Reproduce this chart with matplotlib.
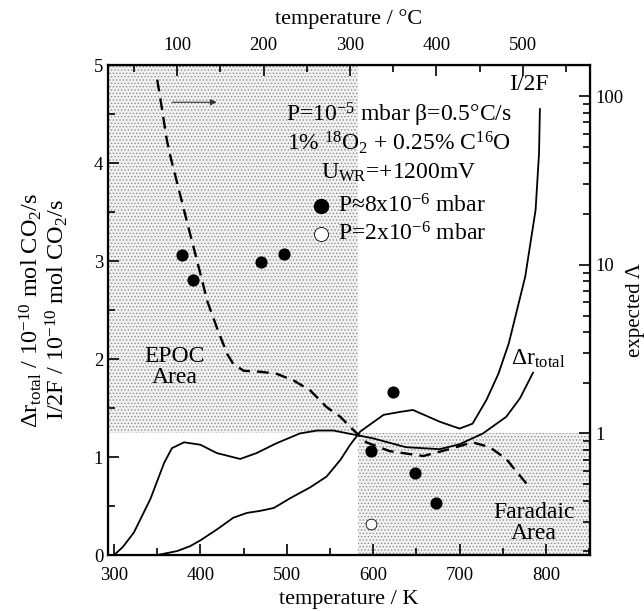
import matplotlib
matplotlib.use("Agg")
import matplotlib.pyplot as plt
from matplotlib.patches import Rectangle
from matplotlib.ticker import MultipleLocator, LogLocator, NullFormatter, FixedLocator

plt.rcParams['font.family'] = ['Liberation Serif', 'DejaVu Serif']
plt.rcParams['mathtext.fontset'] = 'custom'
plt.rcParams['mathtext.rm'] = 'Liberation Serif'
plt.rcParams['mathtext.it'] = 'Liberation Serif:italic'
plt.rcParams['mathtext.bf'] = 'Liberation Serif:bold'
plt.rcParams['hatch.color'] = '#8c8c8c'
plt.rcParams['hatch.linewidth'] = 0.6

# ---- data ----
temp_dr = [300, 310, 323, 342, 358, 367, 381, 400, 419, 446, 465, 488, 515, 535, 554, 571,
           583, 600, 638, 677, 700, 727, 754, 770, 785]
dr_total = [0, 0.08, 0.23, 0.57, 0.94, 1.09, 1.15, 1.125, 1.04, 0.98, 1.04, 1.14, 1.24, 1.27,
            1.27, 1.24, 1.22, 1.19, 1.10, 1.08, 1.13, 1.24, 1.41, 1.60, 1.86]

temp_i2f = [350, 373, 388, 400, 419, 438, 454, 469, 485, 504, 527, 546, 562, 573, 585, 612,
            631, 646, 677, 700, 715, 731, 745, 757, 776, 788, 792, 793]
i2f = [0, 0.04, 0.09, 0.15, 0.26, 0.38, 0.43, 0.45, 0.48, 0.58, 0.69, 0.80, 0.97, 1.12, 1.26,
       1.43, 1.46, 1.48, 1.36, 1.29, 1.34, 1.58, 1.85, 2.16, 2.84, 3.52, 4.10, 4.55]

temp_lam = [350, 355, 361, 366, 375, 385, 395, 408, 419, 431, 438, 450, 469, 488, 508, 527,
            546, 562, 573, 592, 619, 658, 688, 715, 735, 754, 781]
lam_expected = [4.85, 4.58, 4.24, 4.04, 3.73, 3.38, 3.04, 2.59, 2.32, 2.05, 1.95, 1.88, 1.87,
                1.85, 1.78, 1.68, 1.51, 1.41, 1.31, 1.15, 1.06, 1.01, 1.08, 1.15, 1.10, 0.98, 0.69]

temp_p8 = [379, 391, 470, 497, 598, 623, 648, 673]
val_p8 = [3.06, 2.81, 2.99, 3.07, 1.06, 1.66, 0.84, 0.53]
temp_p2 = [598]
val_p2 = [0.32]

area_split_K = 582
area_level = 1.24

x_ticks_K = [300, 400, 500, 600, 700, 800]
x_ticks_C = [100, 200, 300, 400, 500]

fig = plt.figure(figsize=(6.44, 6.11), dpi=100)
ax = fig.add_axes([108/644, 1-555/611, (590-108)/644, (555-65)/611])
ax.set_xlim(293, 851)
ax.set_ylim(0, 5)

# shaded areas
ax.add_patch(Rectangle((293, area_level), area_split_K-293, 5-area_level, facecolor='#f2f2f2',
                       edgecolor='#8c8c8c', hatch='.....', lw=0, zorder=0))
ax.add_patch(Rectangle((area_split_K, 0), 851-area_split_K, area_level, facecolor='#f2f2f2',
                       edgecolor='#8c8c8c', hatch='.....', lw=0, zorder=0))

ax.plot(temp_dr, dr_total, color='black', lw=1.3)
ax.plot(temp_i2f, i2f, color='black', lw=1.3)
ax.plot(temp_lam, lam_expected, color='black', lw=1.7, ls=(0, (5, 3)))

h1 = ax.scatter(temp_p8, val_p8, s=60, color='black', zorder=5, label=r'P≈8x10$^{-6}$ mbar')
h2 = ax.scatter(temp_p2, val_p2, s=60, facecolor='white', edgecolor='black', lw=0.6, zorder=5,
                label=r'P=2x10$^{-6}$ mbar')

ax.annotate('', xy=(422, 4.62), xytext=(364, 4.62),
            arrowprops=dict(arrowstyle='-|>', color='#333333', lw=0.8, mutation_scale=9))

fs = 17
ax.text(630, 4.49, r'P=10$^{-5}$ mbar β=0.5°C/s', ha='center', va='center', fontsize=fs)
ax.text(630, 4.21, r'1% $^{18}$O$_2$ + 0.25% C$^{16}$O', ha='center', va='center', fontsize=fs)
ax.text(630, 3.90, r'U$_{\mathrm{WR}}$=+1200mV', ha='center', va='center', fontsize=fs)
ax.legend(handles=[h1, h2], loc='upper left', bbox_to_anchor=(510, 3.80),
          bbox_transform=ax.transData, frameon=False, fontsize=fs, handletextpad=0.1,
          labelspacing=0.2, borderpad=0, handlelength=1.2, markerscale=1.3)

ax.text(370, 1.92, 'EPOC\nArea', ha='center', va='center', fontsize=fs, linespacing=1.0)
ax.text(786, 0.33, 'Faradaic\nArea', ha='center', va='center', fontsize=fs, linespacing=1.0)
ax.text(757, 4.80, 'I/2F', ha='left', va='center', fontsize=fs)
ax.text(760, 2.0, r'Δr$_{\mathrm{total}}$', ha='left', va='center', fontsize=fs)

# axes styling
ax.xaxis.set_major_locator(FixedLocator(x_ticks_K))
ax.xaxis.set_minor_locator(MultipleLocator(50))
ax.yaxis.set_major_locator(MultipleLocator(1))
ax.yaxis.set_minor_locator(MultipleLocator(0.5))
ax.tick_params(which='both', direction='in', top=False, right=False, labelsize=13.5, width=1.2)
ax.tick_params(which='major', length=8)
ax.tick_params(which='minor', length=5)
ax.tick_params(axis='x', which='both', pad=9)
for s in ax.spines.values():
    s.set_linewidth(1.6)
ax.set_xlabel('temperature / K', fontsize=16, labelpad=4)
ax.set_ylabel('Δr$_{\\mathrm{total}}$ / 10$^{-10}$ mol CO$_2$/s\nI/2F / 10$^{-10}$ mol CO$_2$/s',
              fontsize=17.5, labelpad=17, linespacing=1.0)

top = ax.secondary_xaxis('top', functions=(lambda k: k - 273.15, lambda c: c + 273.15))
top.xaxis.set_major_locator(FixedLocator(x_ticks_C))
top.xaxis.set_minor_locator(MultipleLocator(50))
top.tick_params(which='both', direction='in', labelsize=13.5, width=1.2, pad=8)
top.tick_params(which='major', length=8)
top.tick_params(which='minor', length=5)
top.set_xlabel('temperature / °C', fontsize=16, labelpad=9)

# right log axis: value 1 at 1.24 left units, 1.72 left units per decade
lo = 10 ** (-1.24 / 1.72)
hi = 10 ** ((5 - 1.24) / 1.72)
rax = ax.twinx()
rax.set_yscale('log')
rax.set_ylim(lo, hi)
rax.yaxis.set_minor_locator(LogLocator(base=10, subs=range(2, 10), numticks=10))
rax.yaxis.set_minor_formatter(NullFormatter())
rax.set_yticks([1, 10, 100])
rax.set_yticklabels(['1', '10', '100'])
rax.tick_params(which='both', direction='in', labelsize=13.5, width=1.2, pad=4)
rax.tick_params(which='major', length=8)
rax.tick_params(which='minor', length=5)
rax.set_ylabel('expected Λ', fontsize=15, labelpad=2)

fig.savefig('out.png', dpi=100)
